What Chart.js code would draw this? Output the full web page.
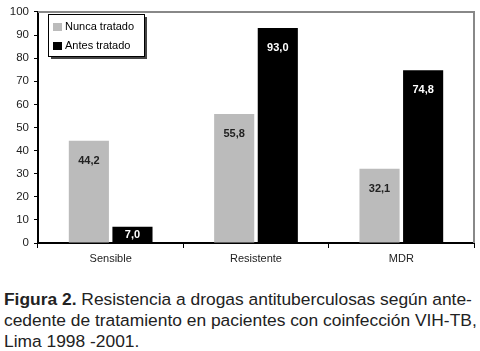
<!DOCTYPE html>
<html lang="es">
<head>
    <meta charset="UTF-8">
    <title>Figura 2</title>
    <style>
        body {
            margin: 0;
            background: #fff;
            font-family: "Liberation Sans", Arial, sans-serif;
        }
        .chart-box {
            position: relative;
            width: 480px;
            height: 270px;
        }
        .caption {
            margin: 19px 0 0 4px;
            width: 476px;
            font-size: 17.4px;
            line-height: 21px;
            color: #222;
            white-space: nowrap;
        }
    </style>
</head>
<body>
    <div class="chart-box">
        <canvas id="chart"></canvas>
    </div>
    <div class="caption"><b>Figura 2.</b> Resistencia a drogas antituberculosas según ante-<br>cedente de tratamiento en pacientes con coinfección VIH-TB,<br>Lima 1998 -2001.</div>

    <script src="https://cdn.jsdelivr.net/npm/chart.js"></script>
    <script>
        const categories = ['Sensible', 'Resistente', 'MDR'];
        const nuncaTratado = [44.2, 55.8, 32.1];
        const antesTratado = [7.0, 93.0, 74.8];
        const seriesNames = ['Nunca tratado', 'Antes tratado'];
        const seriesColors = ['#bbbbbb', '#000000'];

        // frame (gray top/right) + legend box + value labels
        const extras = {
            id: 'extras',
            afterDatasetsDraw(chart) {
                const ctx = chart.ctx;
                const a = chart.chartArea;
                ctx.save();
                ctx.strokeStyle = '#888';
                ctx.lineWidth = 2;
                ctx.beginPath();
                ctx.moveTo(a.left, a.top);
                ctx.lineTo(a.right, a.top);
                ctx.lineTo(a.right, a.bottom);
                ctx.stroke();

                // value labels inside bars
                ctx.font = 'bold 11px "Liberation Sans", Arial, sans-serif';
                ctx.textAlign = 'center';
                ctx.textBaseline = 'middle';
                chart.data.datasets.forEach((ds, i) => {
                    chart.getDatasetMeta(i).data.forEach((bar, j) => {
                        ctx.fillStyle = i === 0 ? '#222' : '#fff';
                        const txt = ds.data[j].toFixed(1).replace('.', ',');
                        const y = Math.min(bar.y + 20, (bar.y + bar.base) / 2);
                        ctx.fillText(txt, bar.x, y);
                    });
                });

                // legend
                const lx = 48, ly = 14, lw = 96, lh = 42;
                ctx.fillStyle = '#444';
                ctx.fillRect(lx + 3, ly + 3, lw, lh);
                ctx.fillStyle = '#fff';
                ctx.fillRect(lx, ly, lw, lh);
                ctx.strokeStyle = '#000';
                ctx.lineWidth = 1;
                ctx.strokeRect(lx + 0.5, ly + 0.5, lw, lh);
                ctx.font = '11px "Liberation Sans", Arial, sans-serif';
                ctx.textAlign = 'left';
                seriesNames.forEach((name, i) => {
                    const y = ly + 13 + i * 19;
                    ctx.fillStyle = seriesColors[i];
                    ctx.fillRect(lx + 5, y - 4, 9, 8);
                    ctx.fillStyle = '#000';
                    ctx.fillText(name, lx + 17, y);
                });
                ctx.restore();
            }
        };

        new Chart(document.getElementById('chart'), {
            type: 'bar',
            data: {
                labels: categories,
                datasets: [
                    { label: seriesNames[0], data: nuncaTratado, backgroundColor: seriesColors[0] },
                    { label: seriesNames[1], data: antesTratado, backgroundColor: seriesColors[1] }
                ]
            },
            options: {
                responsive: true,
                maintainAspectRatio: false,
                animation: false,
                categoryPercentage: 0.6,
                barPercentage: 0.92,
                layout: { padding: { top: 5, right: 6, left: 0, bottom: 0 } },
                plugins: {
                    legend: { display: false },
                    tooltip: { enabled: false }
                },
                scales: {
                    x: {
                        grid: { drawOnChartArea: false, color: '#000', tickLength: 5, offset: true },
                        border: { color: '#000', width: 2 },
                        ticks: { color: '#222', font: { size: 11, family: '"Liberation Sans", Arial, sans-serif' }, padding: 4 },
                        afterFit(s) { s.height = 27; }
                    },
                    y: {
                        min: 0,
                        max: 100,
                        grid: { drawOnChartArea: false, color: '#000', tickLength: 4 },
                        border: { color: '#000', width: 2 },
                        ticks: { stepSize: 10, color: '#222', font: { size: 11.5, family: '"Liberation Sans", Arial, sans-serif' }, padding: 5 },
                        afterFit(s) { s.width = 38; }
                    }
                }
            },
            plugins: [extras]
        });
    </script>
</body>
</html>
